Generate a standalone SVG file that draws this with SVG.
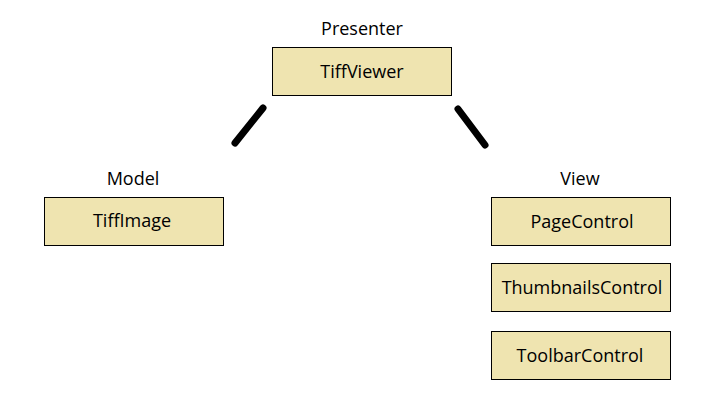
<svg xmlns="http://www.w3.org/2000/svg" width="706" height="407" viewBox="0 0 706 407">
<style>
.box{fill:#EFE4B0;stroke:#000;stroke-width:1}
.t{font-family:"Open Sans","Noto Sans",sans-serif;font-size:18px;fill:#000;text-anchor:middle}
.link{stroke:#000;stroke-width:7;stroke-linecap:round;fill:none}
</style>
<rect width="706" height="407" fill="#fff"/>
<g id="connectors">
<line class="link" x1="263" y1="108" x2="235" y2="143"/>
<line class="link" x1="458" y1="109" x2="485" y2="145"/>
</g>
<g id="label-presenter"><text class="t" x="362" y="35">Presenter</text></g>
<g id="label-model"><text class="t" x="133" y="185">Model</text></g>
<g id="label-view"><text class="t" x="580" y="185">View</text></g>
<g id="tiffviewer">
<rect class="box" x="272.5" y="47.5" width="179" height="48"/>
<text class="t" x="362" y="78">TiffViewer</text>
</g>
<g id="tiffimage">
<rect class="box" x="44.5" y="197.5" width="179" height="48"/>
<text class="t" x="132" y="227">TiffImage</text>
</g>
<g id="pagecontrol">
<rect class="box" x="491.5" y="197.5" width="179" height="48"/>
<text class="t" x="582" y="228">PageControl</text>
</g>
<g id="thumbnailscontrol">
<rect class="box" x="491.5" y="263.5" width="179" height="48"/>
<text class="t" x="582" y="294">ThumbnailsControl</text>
</g>
<g id="toolbarcontrol">
<rect class="box" x="491.5" y="331.5" width="179" height="48"/>
<text class="t" x="580" y="362">ToolbarControl</text>
</g>
</svg>
